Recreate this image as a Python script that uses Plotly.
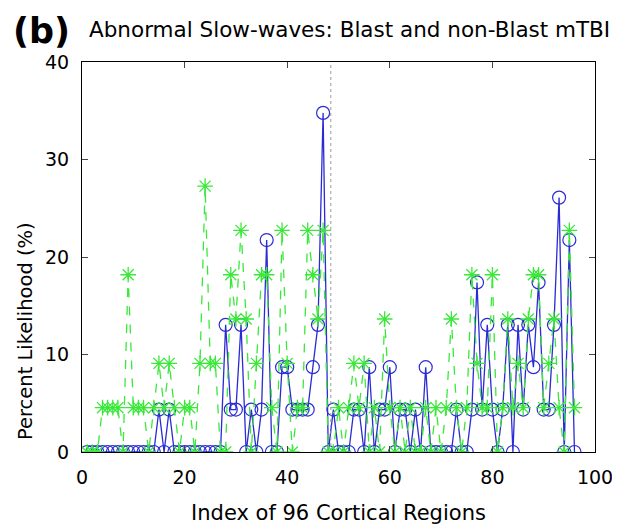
import plotly.graph_objects as go

# region index 1..96
regions = list(range(1, 97))

# non-blast mTBI (blue circles, solid)
blue_pct = [
    0, 0, 0, 0, 0, 0, 0, 0, 0, 0, 0, 0, 0, 0, 4.35, 0, 4.35, 0, 0, 0,
    0, 0, 0, 0, 0, 0, 0, 13.04, 4.35, 4.35, 13.04, 0, 4.35, 0, 4.35, 21.74, 0, 0, 8.70, 8.70,
    4.35, 4.35, 4.35, 4.35, 8.70, 13.04, 34.78, 0, 4.35, 0, 0, 0, 4.35, 4.35, 0, 8.70, 0, 4.35, 4.35, 8.70,
    0, 4.35, 4.35, 0, 4.35, 0, 8.70, 0, 0, 0, 0, 0, 4.35, 0, 0, 4.35, 17.39, 4.35, 13.04, 4.35,
    0, 4.35, 13.04, 0, 13.04, 4.35, 13.04, 8.70, 17.39, 4.35, 4.35, 13.04, 26.09, 0, 21.74, 0,
]

# blast mTBI (green stars, dashed)
green_pct = [
    0, 0, 0, 4.55, 4.55, 4.55, 4.55, 0, 18.18, 4.55, 4.55, 4.55, 0, 4.55, 9.09, 4.55, 9.09, 4.55, 0, 4.55,
    4.55, 0, 9.09, 27.27, 9.09, 9.09, 0, 0, 18.18, 13.64, 22.73, 13.64, 0, 9.09, 18.18, 18.18, 4.55, 0, 22.73, 9.09,
    0, 4.55, 4.55, 22.73, 18.18, 13.64, 22.73, 0, 0, 4.55, 0, 4.55, 9.09, 4.55, 9.09, 0, 4.55, 0, 13.64, 4.55,
    0, 4.55, 0, 4.55, 0, 0, 4.55, 0, 4.55, 0, 4.55, 13.64, 4.55, 0, 4.55, 18.18, 9.09, 4.55, 4.55, 18.18,
    0, 4.55, 13.64, 4.55, 9.09, 4.55, 13.64, 18.18, 18.18, 4.55, 9.09, 13.64, 4.55, 0, 22.73, 4.55,
]

hemisphere_split = 48.5

font_family = 'DejaVu Sans, sans-serif'

fig = go.Figure()

fig.add_trace(go.Scatter(x=regions, y=blue_pct, mode='lines+markers',
                         line=dict(color='#2b2bd6', width=1.3),
                         marker=dict(symbol='circle-open', size=13, color='#2b2bd6', line=dict(width=1.2))))
fig.add_trace(go.Scatter(x=regions, y=green_pct, mode='lines+markers',
                         line=dict(color='#3ae83a', width=1.3, dash='dash'),
                         marker=dict(symbol='asterisk-open', size=13, color='#3ae83a', line=dict(width=1.3))))

fig.add_vline(x=hemisphere_split, line=dict(color='#999999', width=1, dash='dot'))

# panel label and title
fig.add_annotation(text='<b>(b)</b>', x=0.0, y=1.0, xref='paper', yref='paper', xanchor='left', yanchor='bottom',
                   xshift=-71, yshift=9, showarrow=False, font=dict(size=35, color='black'))
fig.add_annotation(text='Abnormal Slow-waves: Blast and non-Blast mTBI', x=0.0, y=1.0, xref='paper', yref='paper',
                   xanchor='left', yanchor='bottom', xshift=5, yshift=18, showarrow=False,
                   font=dict(size=21.5, color='black'))
# y axis label (sits low beside the axis, as in the source)
fig.add_annotation(text='Percent Likelihood (%)', x=0.0, y=0.31, xref='paper', yref='paper', textangle=-90,
                   xanchor='center', yanchor='middle', xshift=-57, showarrow=False,
                   font=dict(size=19.5, color='black'))

fig.update_layout(width=620, height=526, plot_bgcolor='white', paper_bgcolor='white',
                  margin=dict(l=74, r=33, t=54, b=82), showlegend=False,
                  font=dict(family=font_family, color='black'))
fig.update_xaxes(range=[0, 100], tickvals=[0, 20, 40, 60, 80, 100], ticks='inside', ticklen=6,
                 showline=True, linecolor='black', linewidth=1, mirror='ticks', showgrid=False, zeroline=False,
                 automargin=False, tickfont=dict(size=19), ticklabelstandoff=8,
                 title=dict(text='Index of 96 Cortical Regions', font=dict(size=21), standoff=18))
fig.update_yaxes(range=[0, 40], tickvals=[0, 10, 20, 30, 40], ticks='inside', ticklen=6,
                 showline=True, linecolor='black', linewidth=1, mirror='ticks', showgrid=False, zeroline=False,
                 automargin=False, tickfont=dict(size=19), ticklabelstandoff=8)

fig.write_html("out.html")
